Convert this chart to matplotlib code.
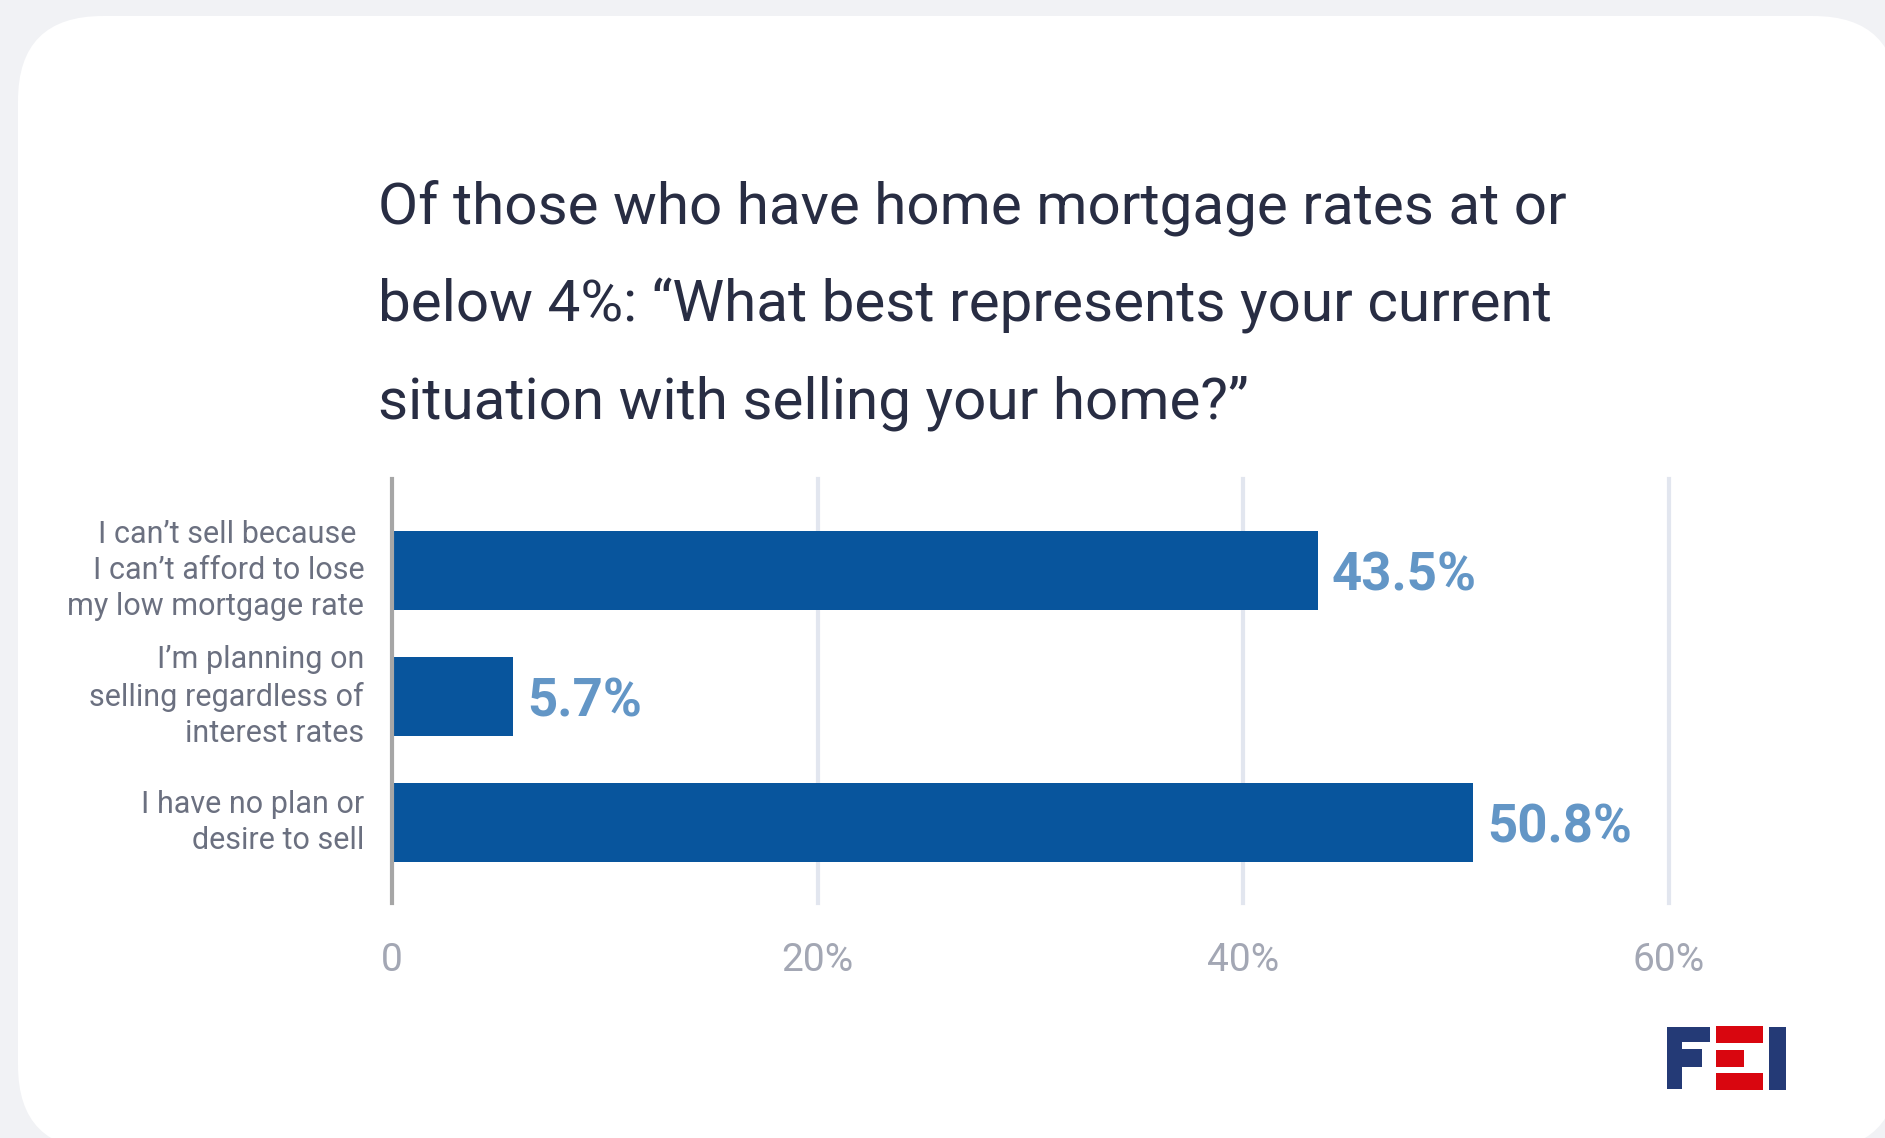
import matplotlib
matplotlib.use("Agg")
import matplotlib.pyplot as plt
from matplotlib.patches import FancyBboxPatch, Rectangle

# data
categories = [
    "I can\u2019t sell because \nI can\u2019t afford to lose\nmy low mortgage rate",
    "I\u2019m planning on\nselling regardless of\ninterest rates",
    "I have no plan or\ndesire to sell",
]
shares = [43.5, 5.7, 50.8]
x_ticks = [0, 20, 40, 60]
x_tick_labels = ["0", "20%", "40%", "60%"]
title = ("Of those who have home mortgage rates at or\n"
         "below 4%: \u201cWhat best represents your current\n"
         "situation with selling your home?\u201d")

W, H = 1885, 1138
BG = "#f1f2f5"
BAR = "#08559d"
VAL = "#6396c6"
LABEL = "#6b7080"
TICK = "#a3a7b4"
GRID = "#e2e6ef"
TITLE = "#282d43"

plt.rcParams["font.family"] = ["Roboto", "DejaVu Sans"]

fig = plt.figure(figsize=(W / 100, H / 100), dpi=100, facecolor=BG)


def fx(px):
    return px / W


def fy(py):
    return 1 - py / H


# white card behind everything
card = FancyBboxPatch((fx(18), fy(1150)), fx(1880), 1134 / H,
                      boxstyle="round,pad=0,rounding_size=0.045",
                      transform=fig.transFigure, facecolor="white",
                      edgecolor="none", mutation_aspect=W / H, zorder=-5)
fig.patches.append(card)

fig.text(fx(378), fy(180), title, ha="left", va="top",
         fontsize=42, color=TITLE, linespacing=1.96)

# axes: x 0..60 at px 392..1669, y from 479 to 903
ax = fig.add_axes([fx(392), fy(903), fx(1669 - 392), (903 - 479) / H])
ax.set_facecolor("none")
ypos = list(range(len(categories)))
ax.barh(ypos, shares, height=0.625, color=BAR, zorder=3)
ax.set_xlim(0, 60)
ax.set_ylim(2.639, -0.726)

for x in x_ticks[1:]:
    ax.axvline(x, color=GRID, lw=3, zorder=1, clip_on=False)
ax.axvline(0, color="#a6a6a6", lw=3, zorder=4, clip_on=False)

for s in ax.spines.values():
    s.set_visible(False)

ax.set_xticks(x_ticks)
ax.set_xticklabels(x_tick_labels)
ax.tick_params(axis="x", length=0, pad=28, labelsize=28, labelcolor=TICK)

ax.set_yticks(ypos)
ax.set_yticklabels(categories)
ax.tick_params(axis="y", length=0, pad=20, labelsize=22, labelcolor=LABEL)
for t in ax.get_yticklabels():
    t.set_linespacing(1.3)
    t.set_horizontalalignment("right")
    t.set_multialignment("right")
    t.set_verticalalignment("center")

for y, v in zip(ypos, shares):
    ax.text(v + 0.65, y, f"{v}%", ha="left", va="center_baseline",
            fontsize=38, fontweight="bold", color=VAL, zorder=5)

# FEI logo
logo_blue = "#243a76"
logo_red = "#d9060f"
logo = [
    (1667, 1027, 1710, 1042, logo_blue),
    (1667, 1027, 1682, 1089, logo_blue),
    (1667, 1049, 1702, 1067, logo_blue),
    (1716, 1026, 1763, 1043, logo_red),
    (1716, 1050, 1744, 1067, logo_red),
    (1716, 1073, 1763, 1090, logo_red),
    (1769, 1027, 1786, 1090, logo_blue),
]
for x0, y0, x1, y1, c in logo:
    fig.patches.append(Rectangle((fx(x0), fy(y1)), fx(x1 - x0), (y1 - y0) / H,
                                 transform=fig.transFigure, facecolor=c,
                                 edgecolor="none"))

fig.savefig("out.png", dpi=100, facecolor=BG)
